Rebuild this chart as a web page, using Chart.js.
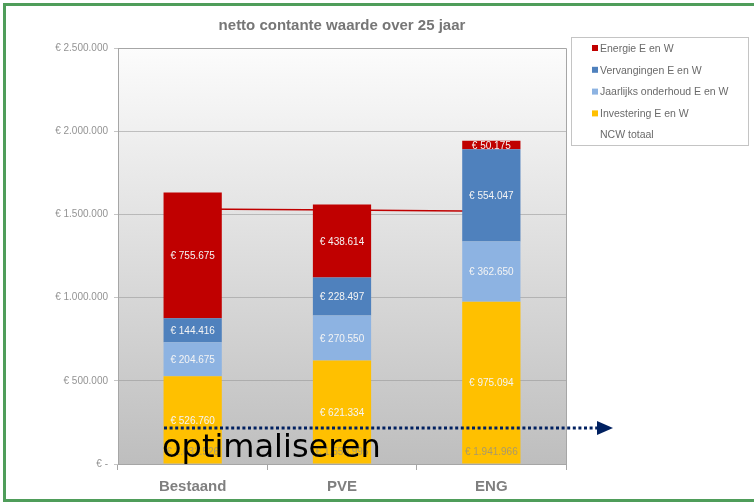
<!DOCTYPE html>
<html>
<head>
<meta charset="utf-8">
<title>netto contante waarde over 25 jaar</title>
<script src="https://cdn.jsdelivr.net/npm/chart.js@4.4.1/dist/chart.umd.min.js"></script>
<style>
html, body { margin: 0; padding: 0; background: #fff; }
#wrap { position: relative; width: 754px; height: 502px; overflow: hidden; }
#frame { position: absolute; left: 3px; top: 3px; width: 820px; height: 499px;
         border: 3px solid #4f9d5a; box-sizing: border-box; pointer-events: none; }
</style>
</head>
<body>
<div id="wrap">
  <canvas id="ncwChart" width="754" height="502"></canvas>
  <div id="frame"></div>
</div>
<script>
//<![CDATA[

let categories = ['Bestaand', 'PVE', 'ENG'];
let investering = [526760, 621334, 975094];
let jaarlijks = [204675, 270550, 362650];
let vervangingen = [144416, 228497, 554047];
let energie = [755675, 438614, 50175];
let ncwTotaal = [1631526, 1558995, 1941966];
let ncwLijn = [1533000, 1526000, 1519000];   // dunne rode lijn achter de staven
let yTicks = [0, 500000, 1000000, 1500000, 2000000, 2500000];

let seriesNames = ['Investering E en W', 'Jaarlijks onderhoud E en W', 'Vervangingen E en W', 'Energie E en W'];
let seriesColors = ['#ffc000', '#8db3e2', '#4f81bd', '#c00000'];

const FONT = "'Liberation Sans', Arial, sans-serif";

function euro(v) {
    return '€ ' + String(v).replace(/\B(?=(\d{3})+(?!\d))/g, '.');
}

// grijze verloop-achtergrond van het plotgebied
const plotBackground = {
    id: 'plotBackground',
    beforeDraw(chart) {
        const a = chart.chartArea;
        const ctx = chart.ctx;
        const g = ctx.createLinearGradient(0, a.top, 0, a.bottom);
        g.addColorStop(0, '#fcfcfc');
        g.addColorStop(1, '#bebebe');
        ctx.save();
        ctx.fillStyle = g;
        ctx.fillRect(a.left, a.top, a.right - a.left, a.bottom - a.top);
        ctx.restore();
    },
    afterDraw(chart) {
        const a = chart.chartArea;
        const ctx = chart.ctx;
        ctx.save();
        ctx.strokeStyle = '#a6a6a6';
        ctx.lineWidth = 1;
        ctx.beginPath();
        ctx.moveTo(a.left, a.top + 0.5);
        ctx.lineTo(a.right + 0.5, a.top + 0.5);
        ctx.lineTo(a.right + 0.5, a.bottom);
        ctx.stroke();
        ctx.restore();
    }
};

// waarden in de staven + NCW totaal onderaan
const valueLabels = {
    id: 'valueLabels',
    afterDatasetsDraw(chart) {
        const ctx = chart.ctx;
        ctx.save();
        ctx.font = '10px ' + FONT;
        ctx.textAlign = 'center';
        ctx.textBaseline = 'middle';
        chart.data.datasets.forEach((ds, i) => {
            if (ds.type === 'line') return;
            const meta = chart.getDatasetMeta(i);
            meta.data.forEach((bar, j) => {
                const p = bar.getProps(['x', 'y', 'base'], true);
                ctx.fillStyle = '#f4f4f4';
                ctx.fillText(euro(ds.data[j]), p.x, (p.y + p.base) / 2 + 1);
            });
        });
        const xs = chart.scales.x;
        ctx.fillStyle = 'rgba(140,140,140,0.75)';
        ncwTotaal.forEach((v, j) => {
            ctx.fillText(euro(v), xs.getPixelForValue(j), chart.chartArea.bottom - 12);
        });
        ctx.restore();
    }
};

// titel, legenda en de pijl "optimaliseren"
const extras = {
    id: 'extras',
    afterDraw(chart) {
        const ctx = chart.ctx;
        const a = chart.chartArea;
        ctx.save();

        ctx.font = 'bold 15px ' + FONT;
        ctx.fillStyle = '#767676';
        ctx.textAlign = 'center';
        ctx.textBaseline = 'middle';
        ctx.fillText('netto contante waarde over 25 jaar', (a.left + a.right) / 2, 26);

        // legenda
        ctx.strokeStyle = '#c4c4c4';
        ctx.lineWidth = 1;
        ctx.strokeRect(571.5, 37.5, 177, 108);
        ctx.font = '10.5px ' + FONT;
        ctx.textAlign = 'left';
        let rows = [3, 2, 1, 0];
        rows.forEach((k, r) => {
            const y = 48 + r * 21.8;
            ctx.fillStyle = seriesColors[k];
            ctx.fillRect(592, y - 3, 6, 6);
            ctx.fillStyle = '#6a6a6a';
            ctx.fillText(seriesNames[k], 600, y + 1);
        });
        ctx.fillStyle = '#6a6a6a';
        ctx.fillText('NCW totaal', 600, 48 + 4 * 21.8);

        // stippellijn met pijlpunt
        ctx.strokeStyle = '#002060';
        ctx.fillStyle = '#002060';
        ctx.lineWidth = 3;
        ctx.setLineDash([3, 2.6]);
        ctx.beginPath();
        ctx.moveTo(164, 428);
        ctx.lineTo(597, 428);
        ctx.stroke();
        ctx.setLineDash([]);
        ctx.beginPath();
        ctx.moveTo(597, 421);
        ctx.lineTo(613, 428);
        ctx.lineTo(597, 435);
        ctx.closePath();
        ctx.fill();

        ctx.font = "32px 'DejaVu Sans', Verdana, sans-serif";
        ctx.fillStyle = '#000000';
        ctx.textBaseline = 'alphabetic';
        ctx.fillText('optimaliseren', 162, 457);
        ctx.restore();
    }
};

let datasets = seriesNames.map((name, k) => ({
    type: 'bar',
    label: name,
    data: [investering, jaarlijks, vervangingen, energie][k],
    backgroundColor: seriesColors[k],
    stack: 'ncw',
    order: 1,
    barPercentage: 0.39,
    categoryPercentage: 1
}));
datasets.push({
    type: 'line',
    label: 'lijn',
    data: ncwLijn,
    borderColor: '#c00000',
    borderWidth: 1.5,
    pointRadius: 0,
    fill: false,
    stack: 'lijn',
    order: 5
});

const chart = new Chart(document.getElementById('ncwChart'), {
    type: 'bar',
    data: { labels: categories, datasets: datasets },
    options: {
        responsive: false,
        animation: false,
        layout: { padding: { left: 0, right: 188, top: 48, bottom: 0 } },
        plugins: {
            legend: { display: false },
            title: { display: false },
            tooltip: { enabled: false }
        },
        scales: {
            x: {
                stacked: true,
                grid: { offset: true, drawOnChartArea: false, drawTicks: true, tickLength: 6, color: '#a6a6a6' },
                border: { color: '#a6a6a6' },
                ticks: { color: '#7f7f7f', font: { family: FONT, size: 15, weight: 'bold' }, padding: 8 },
                afterFit(scale) { scale.height = 38; }
            },
            y: {
                stacked: true,
                min: 0,
                max: 2500000,
                afterBuildTicks(scale) { scale.ticks = yTicks.map(v => ({ value: v })); },
                grid: { color: 'rgba(150,150,150,0.55)', tickLength: 4 },
                border: { color: '#a6a6a6' },
                ticks: {
                    color: '#939393',
                    font: { family: FONT, size: 10 },
                    padding: 6,
                    callback: v => v === 0 ? '€ -' : euro(v)
                },
                afterFit(scale) { scale.width = 118; }
            }
        }
    },
    plugins: [plotBackground, valueLabels, extras]
});

// ]]>
</script>
</body>
</html>
